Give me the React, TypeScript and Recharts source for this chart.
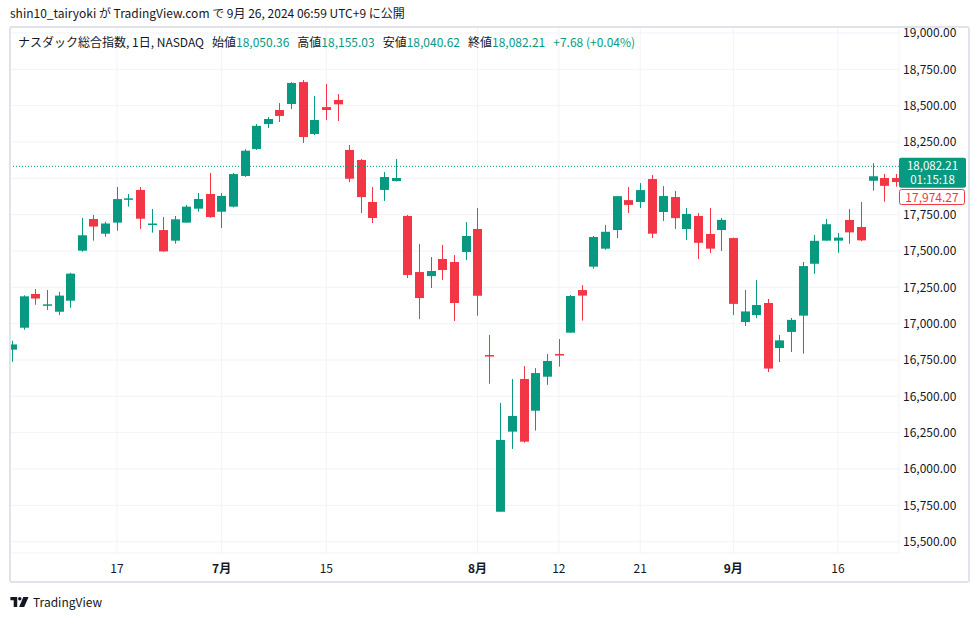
import { ComposedChart, Bar, XAxis, YAxis, CartesianGrid, ReferenceLine } from 'recharts';

const UP = '#089981';
const DOWN = '#f23645';
const TEXT = '#131722';
const FONT = "'Noto Sans CJK JP', 'Noto Sans', sans-serif";

// NASDAQ Composite, daily, Jun 4 - Sep 24 2024
const dates = [
  '6/4', '6/5', '6/6', '6/7', '6/10', '6/11', '6/12', '6/13', '6/14', '6/17',
  '6/18', '6/20', '6/21', '6/24', '6/25', '6/26', '6/27', '6/28', '7/1', '7/2',
  '7/3', '7/5', '7/8', '7/9', '7/10', '7/11', '7/12', '7/15', '7/16', '7/17',
  '7/18', '7/19', '7/22', '7/23', '7/24', '7/25', '7/26', '7/29', '7/30', '7/31',
  '8/1', '8/2', '8/5', '8/6', '8/7', '8/8', '8/9', '8/12', '8/13', '8/14',
  '8/15', '8/16', '8/19', '8/20', '8/21', '8/22', '8/23', '8/26', '8/27', '8/28',
  '8/29', '8/30', '9/3', '9/4', '9/5', '9/6', '9/9', '9/10', '9/11', '9/12',
  '9/13', '9/16', '9/17', '9/18', '9/19', '9/20', '9/23', '9/24',
];

const open = [
  16821, 16972, 17204, 17123, 17082, 17158, 17502, 17720, 17619, 17695,
  17860, 17920, 17681, 17644, 17571, 17695, 17791, 17892, 17770, 17805,
  18016, 18202, 18373, 18470, 18511, 18662, 18305, 18490, 18539, 18195,
  18126, 17837, 17920, 17981, 17741, 17355, 17327, 17445, 17424, 17493,
  17651, 16784, 15706, 16257, 16619, 16401, 16635, 16791, 16938, 17231,
  17392, 17516, 17644, 17850, 17837, 17995, 17768, 17871, 17651, 17741,
  17617, 17644, 17589, 17011, 17059, 17142, 16832, 16943, 17055, 17412,
  17571, 17571, 17713, 17665, 17983, 18002, 18002, 18050.36,
];
const high = [
  16882, 17195, 17238, 17231, 17218, 17350, 17727, 17748, 17701, 17940,
  17892, 17940, 17789, 17734, 17741, 17816, 17899, 18036, 17899, 18036,
  18200, 18373, 18422, 18518, 18662, 18676, 18566, 18649, 18580, 18229,
  18133, 17940, 18043, 18133, 17748, 17548, 17458, 17541, 17472, 17699,
  17796, 16922, 16454, 16619, 16708, 16694, 16791, 16894, 17197, 17265,
  17603, 17679, 17878, 17940, 17967, 18023, 17946, 17913, 17796, 17761,
  17796, 17727, 17592, 17231, 17300, 17170, 16922, 17039, 17424, 17610,
  17720, 17624, 17789, 17837, 18105, 18030, 18030, 18155.03,
];
const low = [
  16738, 16958, 17130, 17094, 17059, 17110, 17495, 17571, 17598, 17639,
  17805, 17651, 17626, 17495, 17550, 17695, 17770, 17729, 17658, 17800,
  18010, 18195, 18346, 18387, 18476, 18243, 18298, 18401, 18394, 17974,
  17761, 17692, 17844, 17978, 17314, 17031, 17245, 17300, 17018, 17438,
  17055, 16587, 15706, 16138, 16181, 16264, 16579, 16704, 16938, 17021,
  17378, 17509, 17589, 17761, 17796, 17589, 17706, 17651, 17575, 17445,
  17486, 17500, 17059, 16984, 17038, 16667, 16736, 16805, 16794, 17343,
  17571, 17488, 17550, 17567, 17915, 17839, 17942, 18040.62,
];
const close = [
  16857, 17188, 17173, 17133, 17193, 17344, 17608, 17668, 17689, 17857,
  17862, 17722, 17689, 17497, 17718, 17805, 17858, 17733, 17879, 18029,
  18190, 18361, 18408, 18429, 18656, 18284, 18401, 18470, 18509, 17997,
  17871, 17727, 18009, 18002, 17335, 17176, 17362, 17369, 17142, 17603,
  17192, 16779, 16200, 16365, 16188, 16660, 16743, 16781, 17190, 17193,
  17596, 17632, 17877, 17817, 17919, 17619, 17878, 17726, 17755, 17556,
  17516, 17714, 17136, 17084, 17128, 16691, 16885, 17026, 17396, 17570,
  17684, 17592, 17628, 17573, 18014, 17948, 17974.27, 18082.21,
];

const tickIdx = [9, 18, 27, 40, 47, 54, 62, 71];
const tickLabels = ['17', '7月', '15', '8月', '12', '21', '9月', '16'];
const priceTicks = [15500, 15750, 16000, 16250, 16500, 16750, 17000, 17250, 17500, 17750, 18000, 18250, 18500, 18750, 19000];

const lastClose = 18082.21;
const prevClose = 17974.27;
const countdown = '01:15:18';

const candles = dates.map((d, i) => ({
  i,
  date: d,
  o: open[i],
  h: high[i],
  l: low[i],
  c: close[i],
  range: [low[i], high[i]],
}));

const fmt = (v: number) =>
  v.toLocaleString('en-US', { minimumFractionDigits: 2, maximumFractionDigits: 2 });

function Candle(props: any) {
  const { x, y, width, height, payload } = props;
  if (!payload) return null;
  const { o, h, l, c } = payload;
  const top = Math.min(y, y + height);
  const bot = Math.max(y, y + height);
  const k = (bot - top) / (h - l);
  const py = (v: number) => top + (h - v) * k;
  const cx = Math.round(x + width / 2);
  const color = c >= o ? UP : DOWN;
  const bt = py(Math.max(o, c));
  const bb = py(Math.min(o, c));
  return (
    <g>
      <line x1={cx + 0.5} x2={cx + 0.5} y1={top} y2={bot} stroke={color} strokeWidth={1} />
      <rect x={cx - 4} y={bt} width={9} height={Math.max(1.5, bb - bt)} fill={color} />
    </g>
  );
}

function PriceTick(props: any) {
  const { x, y, payload } = props;
  const v = payload.value;
  // labels hidden behind the price tags, as on the original scale
  if (Math.abs(v - lastClose) < 110 || Math.abs(v - prevClose) < 60) return null;
  return (
    <text x={x + 4} y={y} dy={4.5} fontSize={12} fill={TEXT} fontFamily={FONT} textAnchor="start">
      {fmt(v)}
    </text>
  );
}

function TimeTick(props: any) {
  const { x, y, payload } = props;
  const k = tickIdx.indexOf(payload.value);
  const label = tickLabels[k] ?? '';
  const month = label.includes('月');
  return (
    <text x={x} y={y} dy={20} fontSize={12} fill={TEXT} fontFamily={FONT} textAnchor="middle" fontWeight={month ? 700 : 400}>
      {label}
    </text>
  );
}

function LastTag(props: any) {
  const vb = props.viewBox;
  if (!vb) return null;
  const x = vb.x + vb.width;
  const y = vb.y;
  return (
    <g>
      <rect x={x} y={y - 8.5} width={67} height={30} rx={2} fill={UP} />
      <text x={x + 33.5} y={y + 3.5} fontSize={11.5} fill="#fff" fontFamily={FONT} textAnchor="middle">{fmt(lastClose)}</text>
      <text x={x + 33.5} y={y + 18} fontSize={11.5} fill="#fff" fontFamily={FONT} textAnchor="middle">{countdown}</text>
    </g>
  );
}

function PrevTag(props: any) {
  const vb = props.viewBox;
  if (!vb) return null;
  const x = vb.x + vb.width;
  const y = vb.y + 15;
  return (
    <g>
      <rect x={x + 0.5} y={y - 7.5} width={65} height={15} rx={2} fill="#fff" stroke={DOWN} strokeWidth={1} />
      <text x={x + 33} y={y + 4.5} fontSize={12} fill={DOWN} fontFamily={FONT} textAnchor="middle">{fmt(prevClose)}</text>
    </g>
  );
}

function Logo() {
  return (
    <svg width={19} height={10} viewBox="0 0 20 11" style={{ display: 'block' }}>
      <path d="M0 0h7.5v11H3.6V3.6H0z" fill={TEXT} />
      <circle cx={10.3} cy={1.9} r={1.9} fill={TEXT} />
      <path d="M14.2 0H20l-4.8 11H9.6z" fill={TEXT} />
    </svg>
  );
}

const last = candles[candles.length - 1];

export default function App() {
  return (
    <div style={{ position: 'absolute', left: 0, top: 0, width: 980, height: 618, background: '#fff', fontFamily: FONT, color: TEXT, overflow: 'hidden' }}>
      <div style={{ position: 'absolute', left: 10, top: 5, fontSize: 12, lineHeight: '16px', whiteSpace: 'nowrap' }}>
        shin10_tairyoki が TradingView.com で 9月 26, 2024 06:59 UTC+9 に公開
      </div>

      <div style={{ position: 'absolute', left: 0, top: 0 }}>
        <ComposedChart
          width={980}
          height={618}
          data={candles}
          margin={{ top: 27, right: 10, bottom: 37, left: 10 }}
        >
          <CartesianGrid stroke="#f0f3fa" strokeWidth={1} />
          <XAxis
            dataKey="i"
            type="number"
            domain={[-0.2, 76.25]}
            allowDataOverflow
            ticks={tickIdx}
            tick={<TimeTick />}
            tickLine={false}
            axisLine={false}
            tickSize={0}
            tickMargin={0}
            height={28}
            interval={0}
          />
          <YAxis
            orientation="right"
            domain={[15422, 19041]}
            allowDataOverflow
            ticks={priceTicks}
            tick={<PriceTick />}
            tickLine={false}
            axisLine={false}
            tickSize={0}
            tickMargin={0}
            width={71}
            interval={0}
          />
          <Bar dataKey="range" barSize={9} shape={<Candle />} isAnimationActive={false} />
          <ReferenceLine y={prevClose} stroke="none" strokeOpacity={0} label={{ content: (p: any) => <PrevTag {...p} /> }} />
          <ReferenceLine y={lastClose} stroke={UP} strokeDasharray="1 2" strokeWidth={1} label={{ content: (p: any) => <LastTag {...p} /> }} />
        </ComposedChart>
      </div>

      <div style={{ position: 'absolute', left: 18, top: 34, fontSize: 12, lineHeight: '16px', whiteSpace: 'nowrap' }}>
        <span>ナスダック総合指数, 1日, NASDAQ</span>
        <span style={{ marginLeft: 8 }}>始値</span><span style={{ color: UP }}>{fmt(last.o)}</span>
        <span style={{ marginLeft: 8 }}>高値</span><span style={{ color: UP }}>{fmt(last.h)}</span>
        <span style={{ marginLeft: 8 }}>安値</span><span style={{ color: UP }}>{fmt(last.l)}</span>
        <span style={{ marginLeft: 8 }}>終値</span><span style={{ color: UP }}>{fmt(last.c)}</span>
        <span style={{ marginLeft: 8, color: UP }}>+7.68 (+0.04%)</span>
      </div>

      <div style={{ position: 'absolute', left: 9, top: 26, width: 961, height: 557, boxSizing: 'border-box', border: '2px solid #e0e3eb', borderRadius: 3, pointerEvents: 'none' }} />

      <div style={{ position: 'absolute', left: 10, top: 595, display: 'flex', alignItems: 'center', gap: 4 }}>
        <Logo />
        <span style={{ fontSize: 12, lineHeight: '14px' }}>TradingView</span>
      </div>
    </div>
  );
}
